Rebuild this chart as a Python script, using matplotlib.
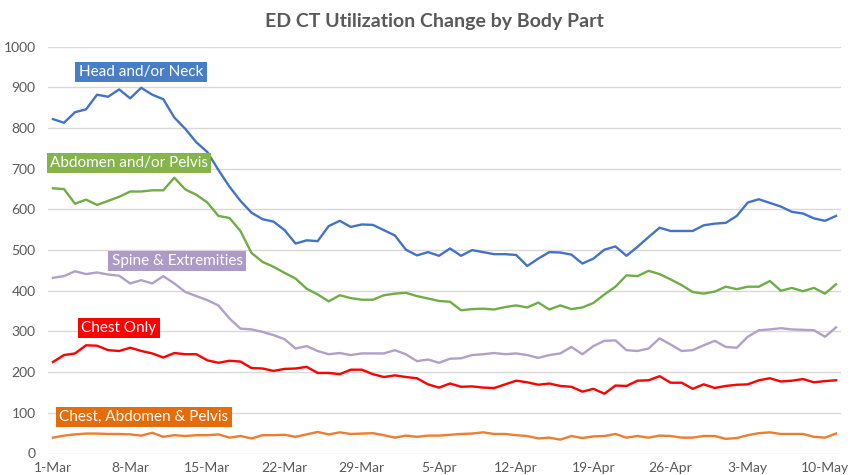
import matplotlib
matplotlib.use("Agg")
import matplotlib.pyplot as plt
import numpy as np

plt.rcParams['font.family'] = ['Lato', 'DejaVu Sans']

tick_labels = ["1-Mar", "8-Mar", "15-Mar", "22-Mar", "29-Mar", "5-Apr",
               "12-Apr", "19-Apr", "26-Apr", "3-May", "10-May"]

head_neck = [822, 813, 839, 846, 882, 877, 895, 873, 899, 882, 871, 826, 798, 765, 741, 697,
             656, 621, 592, 576, 570, 549, 516, 524, 522, 559, 572, 557, 563, 562, 549, 536,
             501, 487, 495, 486, 504, 486, 500, 495, 490, 490, 488, 461, 479, 495, 494, 489,
             467, 479, 501, 509, 486, 508, 532, 555, 547, 547, 547, 561, 565, 567, 584, 617,
             625, 616, 607, 594, 590, 578, 572, 584]
abdomen_pelvis = [652, 650, 614, 624, 611, 621, 631, 644, 644, 647, 647, 678, 649, 636, 617, 584,
                  579, 547, 493, 471, 459, 444, 430, 405, 391, 374, 389, 382, 378, 378, 389, 393,
                  395, 387, 381, 375, 373, 352, 355, 356, 354, 360, 364, 359, 371, 354, 364, 355,
                  359, 370, 391, 410, 438, 436, 449, 441, 428, 414, 397, 393, 398, 410, 404, 410,
                  410, 424, 400, 407, 399, 407, 393, 416]
spine_ext = [432, 436, 448, 441, 445, 440, 437, 418, 426, 418, 436, 418, 397, 387, 377, 364,
             332, 307, 305, 299, 291, 281, 258, 264, 252, 244, 247, 242, 246, 246, 246, 254,
             244, 227, 231, 223, 233, 234, 242, 244, 247, 244, 246, 242, 235, 242, 246, 262,
             244, 264, 277, 278, 254, 252, 258, 283, 268, 252, 254, 266, 277, 262, 260, 287,
             303, 305, 308, 305, 304, 303, 287, 310]
chest_only = [225, 242, 246, 266, 265, 254, 252, 260, 252, 246, 236, 247, 244, 244, 229, 223,
              228, 226, 210, 209, 203, 208, 209, 213, 198, 198, 195, 206, 206, 195, 188, 192,
              188, 185, 170, 162, 172, 164, 165, 162, 161, 170, 179, 175, 169, 172, 166, 164,
              152, 159, 147, 167, 166, 179, 180, 190, 174, 174, 159, 170, 161, 166, 169, 170,
              180, 185, 177, 179, 183, 175, 178, 180]
chest_abd_pelvis = [39, 44, 47, 49, 49, 48, 48, 47, 44, 51, 41, 45, 43, 45, 45, 47,
                    39, 43, 37, 45, 45, 46, 41, 47, 53, 47, 52, 48, 49, 50, 45, 39,
                    44, 41, 44, 44, 46, 48, 49, 52, 48, 48, 45, 43, 37, 39, 34, 43,
                    38, 42, 43, 48, 39, 43, 39, 44, 43, 39, 39, 43, 43, 36, 38, 45,
                    50, 52, 48, 48, 48, 41, 39, 49]

series_names = ["Head and/or Neck", "Abdomen and/or Pelvis", "Spine & Extremities",
                "Chest Only", "Chest, Abdomen & Pelvis"]
series = [head_neck, abdomen_pelvis, spine_ext, chest_only, chest_abd_pelvis]
line_colors = ["#4472C4", "#70AD47", "#B1A0C7", "#FF0000", "#ED7D31"]
box_colors = ["#4A7EC4", "#86B44C", "#AE9AC9", "#FF0000", "#E46C0A"]
label_pos = [(141, 72), (129, 163), (177, 261), (119, 328), (144, 417)]  # pixel centers

W, H = 852, 475
fig = plt.figure(figsize=(W / 100, H / 100), dpi=100)
ax = fig.add_axes([48 / W, 1 - 453.5 / H, (841 - 48) / W, (453.5 - 46.7) / H])

x = np.arange(len(head_neck))
for vals, c in zip(series, line_colors):
    ax.plot(x, vals, color=c, lw=1.7, solid_joinstyle='round', zorder=3)

ax.set_xlim(-0.45, 71.45)
ax.set_ylim(0, 1000)
ax.set_yticks(np.arange(0, 1001, 100))
ax.set_xticks(np.arange(0, 71, 7))
ax.set_xticklabels(tick_labels)
ax.grid(axis='y', color='#D9D9D9', lw=1)
ax.set_axisbelow(True)
for s in ax.spines.values():
    s.set_visible(False)
ax.tick_params(length=0, colors='#595959', labelsize=10)
ax.tick_params(axis='y', pad=9)
ax.tick_params(axis='x', pad=6)

for name, bc, (px, py) in zip(series_names, box_colors, label_pos):
    fig.text(px / W, 1 - py / H, name, ha='center', va='center', color='white',
             fontsize=11,
             bbox=dict(boxstyle='square,pad=0.22', facecolor=bc, edgecolor='none'))

fig.text(434 / W, 1 - 21 / H, "ED CT Utilization Change by Body Part", ha='center', va='center',
         color='#595959', fontsize=14, fontweight='bold')

fig.savefig("out.png", dpi=100, facecolor='white')
